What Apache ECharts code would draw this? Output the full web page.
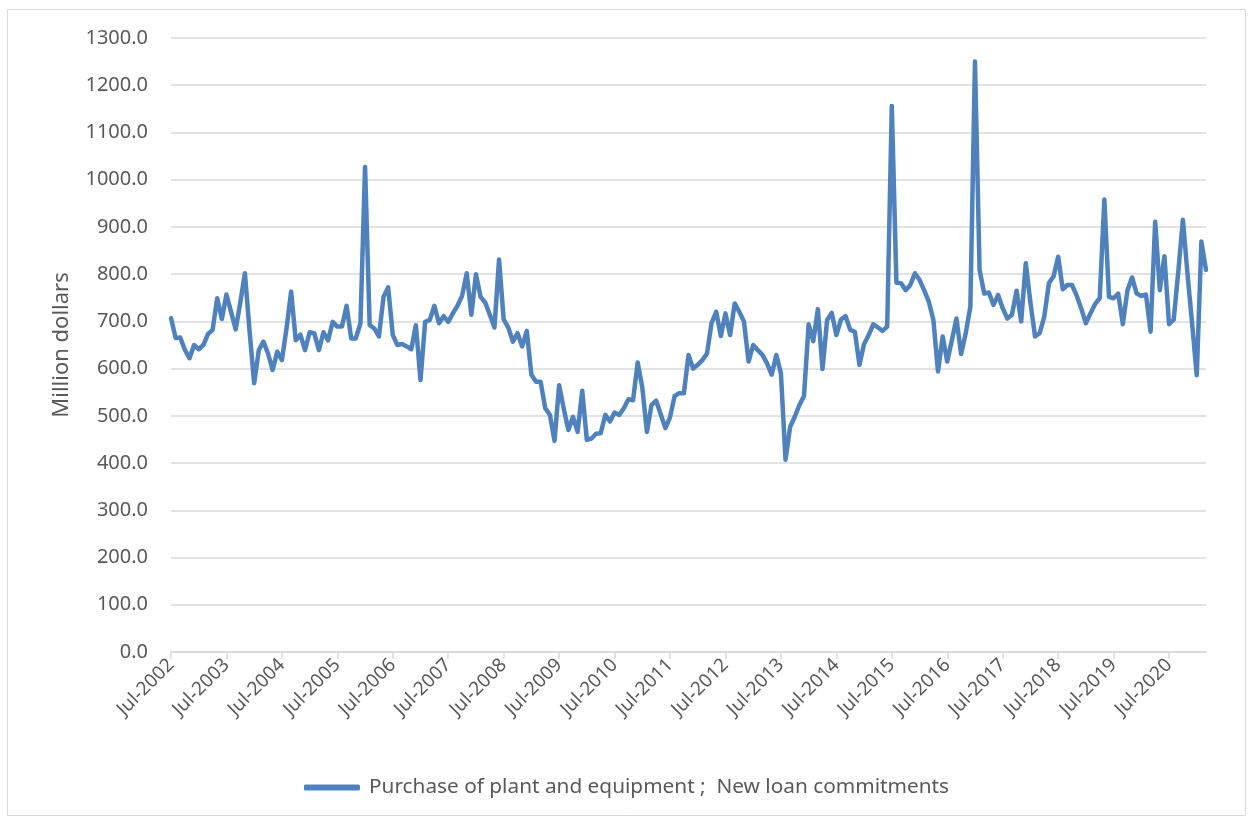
<!DOCTYPE html>
<html>
<head>
<meta charset="utf-8">
<script src="https://cdn.jsdelivr.net/npm/echarts@6/dist/echarts.min.js"></script>
<style>
  html, body { margin: 0; padding: 0; background: #ffffff; }
  #chart { width: 1253px; height: 821px; }
</style>
</head>
<body>
<div id="chart"></div>
<script>
// Monthly series, Jul-2002 to Mar-2021
const seriesName = 'Purchase of plant and equipment ;  New loan commitments';
const startYear = 2002;
const startMonth = 6; // July (0-based)
const monthNames = ['Jan','Feb','Mar','Apr','May','Jun','Jul','Aug','Sep','Oct','Nov','Dec'];

const values = [
  707, 665, 666, 640, 622, 650, 641, 650, 673, 682, 749, 705,
  757, 720, 683, 740, 802, 680, 569, 639, 657, 632, 597, 636,
  618, 685, 763, 660, 672, 639, 677, 675, 639, 677, 660, 699,
  689, 689, 733, 664, 664, 696, 1027, 692, 685, 668, 752, 772,
  671, 650, 652, 647, 641, 692, 576, 699, 703, 733, 696, 711,
  699, 717, 733, 754, 802, 714, 800, 752, 740, 714, 687, 831,
  704, 687, 657, 675, 647, 680, 587, 572, 572, 516, 502, 447,
  565, 515, 470, 498, 466, 553, 449, 452, 462, 463, 502, 488,
  507, 502, 516, 535, 533, 613, 560, 466, 523, 532, 503, 474,
  497, 542, 548, 548, 629, 600, 608, 618, 632, 697, 720, 669,
  717, 671, 738, 720, 700, 615, 650, 639, 629, 611, 587, 629,
  590, 407, 477, 498, 523, 542, 694, 658, 726, 599, 703, 718,
  671, 704, 711, 682, 678, 608, 652, 671, 694, 687, 680, 689,
  1156, 782, 781, 766, 777, 802, 788, 766, 742, 703, 594, 668,
  615, 660, 706, 631, 675, 731, 1250, 809, 759, 761, 735, 756,
  728, 706, 714, 765, 700, 823, 740, 668, 675, 710, 781, 795,
  837, 768, 777, 777, 755, 727, 696, 717, 737, 749, 958, 752,
  749, 759, 694, 766, 793, 759, 754, 757, 678, 911, 766, 838,
  694, 703, 805, 915, 800, 695, 586, 869, 809
];

// Month labels such as "Jul-2002"
const categories = values.map(function (_, i) {
  const m = (startMonth + i) % 12;
  const y = startYear + Math.floor((startMonth + i) / 12);
  return monthNames[m] + '-' + y;
});

const yTicks = { min: 0, max: 1300, interval: 100 };
const textColor = '#595959';
const gridColor = '#d9d9d9';
const lineColor = '#4f81bd';
const fontFamily = '"Noto Sans", "Open Sans", sans-serif';

const chart = echarts.init(document.getElementById('chart'), null, { renderer: 'canvas' });

chart.setOption({
  backgroundColor: '#ffffff',
  animation: false,
  textStyle: { fontFamily: fontFamily },
  graphic: [{
    type: 'rect',
    shape: { x: 7.5, y: 9.5, width: 1238, height: 806 },
    style: { fill: 'none', stroke: gridColor, lineWidth: 1 },
    silent: true,
    z: -1
  }],
  grid: { left: 171, right: 47, top: 38, bottom: 169, containLabel: false },
  legend: {
    data: [seriesName],
    left: 'center',
    top: 772,
    itemWidth: 56,
    itemHeight: 6,
    icon: 'roundRect',
    itemGap: 10,
    textStyle: { color: textColor, fontSize: 20.8, fontFamily: fontFamily, padding: [0, 0, 0, 4] }
  },
  xAxis: {
    type: 'category',
    data: categories,
    boundaryGap: false,
    axisLine: { lineStyle: { color: gridColor, width: 1.5 } },
    axisTick: { show: true, interval: 11, length: 7, lineStyle: { color: gridColor, width: 1.5 } },
    axisLabel: {
      interval: 11,
      rotate: 45,
      color: textColor,
      fontSize: 19,
      fontFamily: fontFamily,
      margin: 10
    },
    splitLine: { show: false }
  },
  yAxis: {
    type: 'value',
    min: yTicks.min,
    max: yTicks.max,
    interval: yTicks.interval,
    name: 'Million dollars',
    nameLocation: 'middle',
    nameGap: 98,
    nameRotate: 90,
    nameTextStyle: { color: textColor, fontSize: 22, fontFamily: fontFamily },
    axisLine: { show: false },
    axisTick: { show: false },
    axisLabel: {
      color: textColor,
      fontSize: 20,
      fontFamily: fontFamily,
      margin: 23,
      formatter: function (v) { return v.toFixed(1); }
    },
    splitLine: { lineStyle: { color: gridColor, width: 1.5 } }
  },
  series: [{
    name: seriesName,
    type: 'line',
    data: values,
    showSymbol: false,
    symbol: 'none',
    lineStyle: { color: lineColor, width: 4.5, join: 'round', cap: 'round' },
    itemStyle: { color: lineColor }
  }]
});
</script>
</body>
</html>
